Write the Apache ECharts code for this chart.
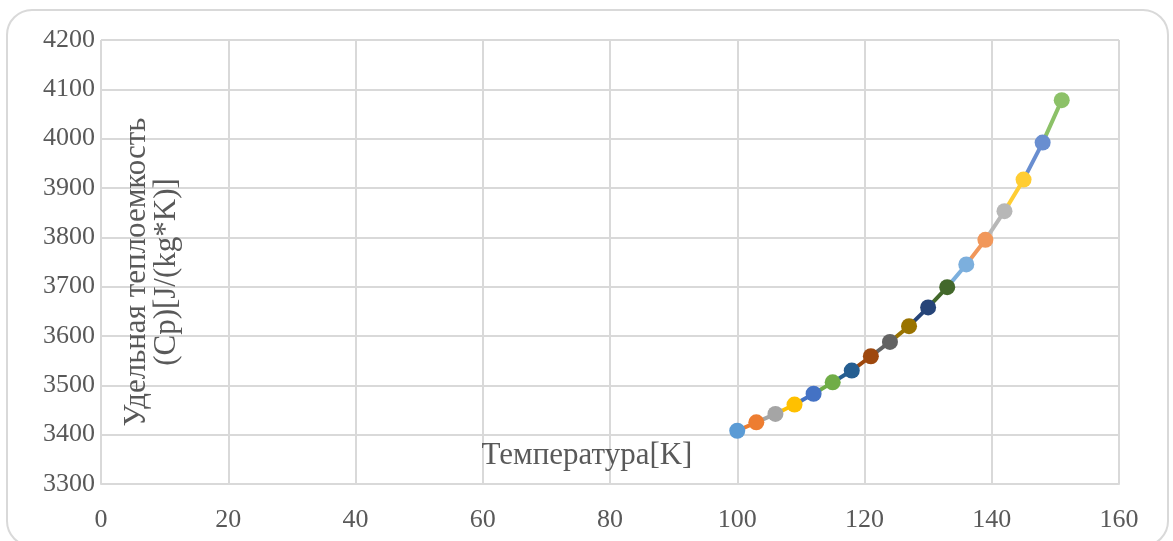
<!DOCTYPE html>
<html>
<head>
<meta charset="utf-8">
<script src="https://cdn.jsdelivr.net/npm/echarts@6/dist/echarts.min.js"></script>
<style>
  html, body { margin: 0; padding: 0; background: #ffffff; }
  #chart { width: 1173px; height: 541px; }
</style>
</head>
<body>
<div id="chart"></div>
<script>
// Temperature, K
const temperature = [100, 103, 106, 109, 112, 115, 118, 121, 124, 127, 130, 133, 136, 139, 142, 145, 148, 151];
// Specific heat capacity Cp, J/(kg*K)
const heatCapacity = [3408, 3425, 3442, 3461, 3483, 3506, 3530, 3559, 3588, 3620, 3658, 3699, 3745, 3795, 3853, 3917, 3992, 4078];
// One colour per point (segment leading to a point takes that point's colour)
const pointColors = ['#5B9BD5', '#ED7D31', '#A5A5A5', '#FFC000', '#4472C4', '#70AD47',
                     '#255E91', '#9E480E', '#636363', '#997300', '#264478', '#43682B',
                     '#7CAFDD', '#F1975A', '#B7B7B7', '#FFCD33', '#698ED0', '#8CC168'];
const xTitle = 'Температура[K]';
const yTitle = ['Удельная теплоемкость', '(Cp)[J/(kg*K)]'];

const textColor = '#595959';
const gridColor = '#D9D9D9';
const fontFamily = '"Liberation Serif", "Times New Roman", serif';

const series = [];
for (let i = 1; i < temperature.length; i++) {
  series.push({
    type: 'line',
    data: [[temperature[i - 1], heatCapacity[i - 1]], [temperature[i], heatCapacity[i]]],
    showSymbol: false,
    lineStyle: { color: pointColors[i], width: 4, cap: 'round' },
    silent: true,
    z: 2
  });
}
series.push({
  type: 'scatter',
  symbolSize: 16,
  itemStyle: { opacity: 1 },
  data: temperature.map((t, i) => ({ value: [t, heatCapacity[i]], itemStyle: { color: pointColors[i], opacity: 1 } })),
  z: 3
});

const chart = echarts.init(document.getElementById('chart'), null, { renderer: 'canvas' });
chart.setOption({
  animation: false,
  backgroundColor: '#ffffff',
  grid: { left: 101, right: 54, top: 40, bottom: 57, containLabel: false },
  xAxis: {
    type: 'value', min: 0, max: 160, interval: 20,
    axisLine: { show: true, lineStyle: { color: gridColor, width: 2 } },
    axisTick: { show: false },
    splitLine: { show: true, lineStyle: { color: gridColor, width: 2 } },
    axisLabel: { color: textColor, fontSize: 26, fontFamily: fontFamily, margin: 23,
                 formatter: v => String(v) }
  },
  yAxis: {
    type: 'value', min: 3300, max: 4200, interval: 100,
    axisLine: { show: false },
    axisTick: { show: false },
    splitLine: { show: true, lineStyle: { color: gridColor, width: 2 } },
    axisLabel: { color: textColor, fontSize: 26, fontFamily: fontFamily, margin: 6,
                 formatter: v => String(v) }
  },
  series: series,
  graphic: [
    {
      type: 'rect', silent: true, z: -1,
      shape: { x: 7, y: 10, width: 1161, height: 536, r: 25 },
      style: { fill: '#ffffff', stroke: gridColor, lineWidth: 2 }
    },
    {
      type: 'text', silent: true, z: 10,
      x: 587, y: 456,
      style: {
        text: xTitle, fill: textColor, font: '31px ' + fontFamily,
        textAlign: 'center', textVerticalAlign: 'middle'
      }
    },
    {
      type: 'text', silent: true, z: 10,
      x: 152, y: 272, rotation: Math.PI / 2,
      style: {
        text: yTitle.join('\n'), fill: textColor, font: '31px ' + fontFamily,
        textAlign: 'center', textVerticalAlign: 'middle', lineHeight: 30
      }
    }
  ]
});
</script>
</body>
</html>
